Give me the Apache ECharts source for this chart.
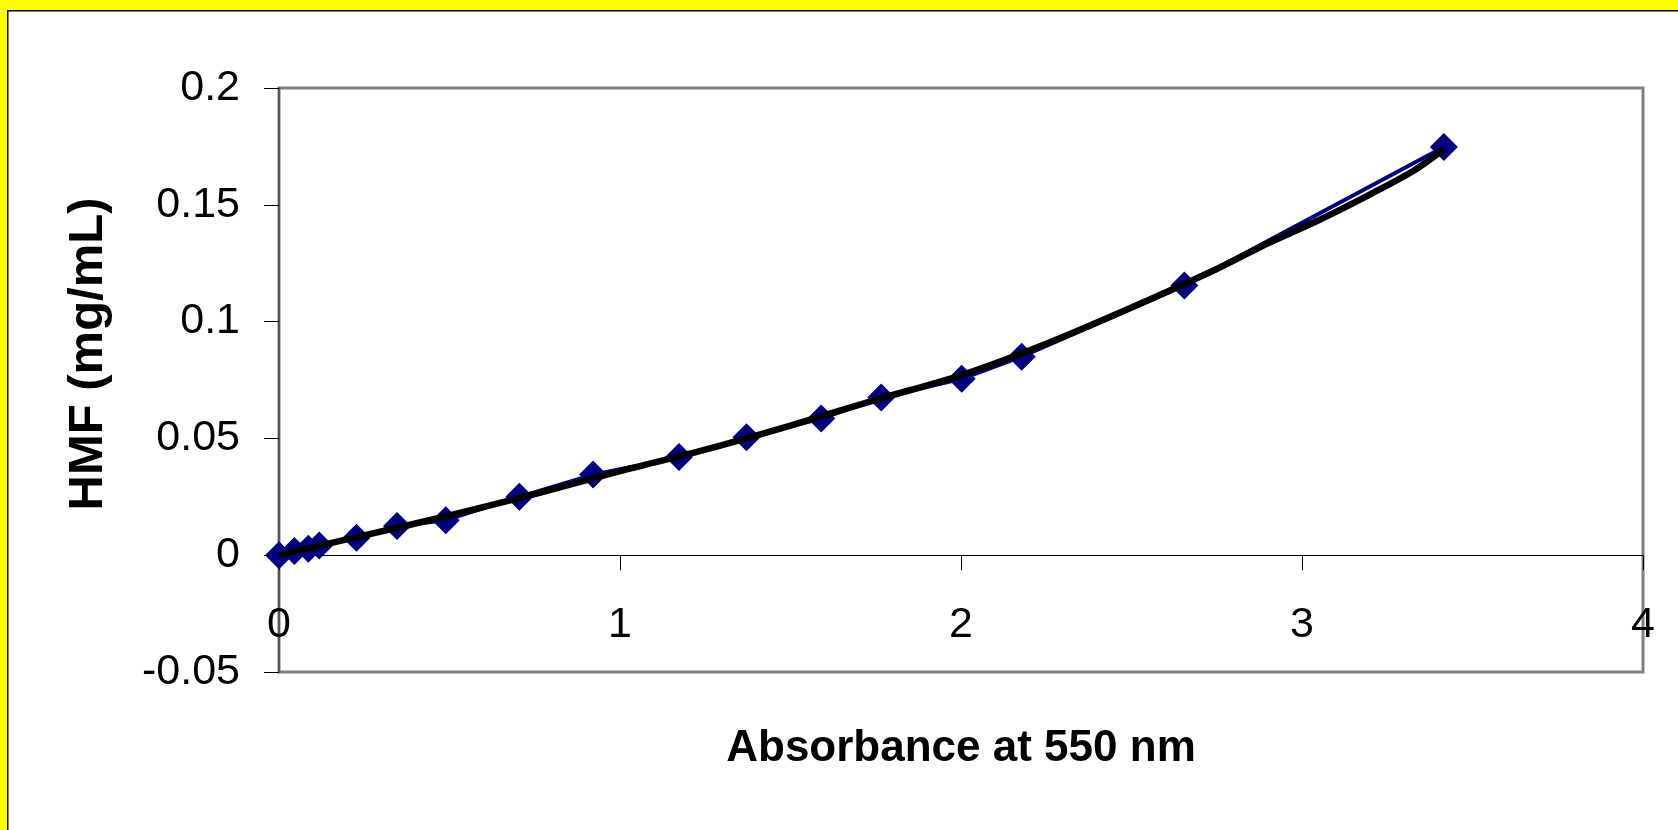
<!DOCTYPE html>
<html>
<head>
<meta charset="utf-8">
<script src="https://cdn.jsdelivr.net/npm/echarts@6/dist/echarts.min.js"></script>
<style>
html,body{margin:0;padding:0;background:#fff;}
#chart{width:1678px;height:830px;}
</style>
</head>
<body>
<div id="chart"></div>
<script>
// Data
const absorbance = [0, 0.045, 0.086, 0.118, 0.227, 0.346, 0.489, 0.705, 0.921, 1.173, 1.371, 1.59, 1.766, 2.002, 2.178, 2.655, 3.416];
const hmf = [0, 0.0018, 0.0028, 0.0041, 0.0075, 0.0125, 0.015, 0.025, 0.0345, 0.042, 0.0505, 0.0585, 0.0675, 0.0755, 0.085, 0.1155, 0.1747];
// Trendline as seen in the picture
const trendX = [0, 0.25, 0.5, 0.75, 1.0, 1.25, 1.5, 1.75, 2.0, 2.25, 2.5, 2.75, 2.9, 3.05, 3.2, 3.33, 3.416];
const trendY = [0, 0.0085, 0.017, 0.0262, 0.036, 0.0452, 0.0555, 0.0665, 0.077, 0.0905, 0.106, 0.1225, 0.1335, 0.1435, 0.1545, 0.1648, 0.1738];
const yTicks = ['-0.05', '0', '0.05', '0.1', '0.15', '0.2'];
const xTitle = 'Absorbance at 550 nm';
const yTitle = 'HMF (mg/mL)';

const chart = echarts.init(document.getElementById('chart'), null, {renderer: 'canvas'});
const font = '"Liberation Sans", Arial, sans-serif';
const gridTop = 88, gridH = 584;
const option = {
  backgroundColor: '#ffffff',
  animation: false,
  grid: {left: 279, top: gridTop, width: 1364, height: gridH, show: true, borderColor: '#808080', borderWidth: 3, backgroundColor: 'transparent'},
  xAxis: {
    type: 'value', min: 0, max: 4, interval: 1,
    position: 'bottom',
    offset: -gridH * 0.05 / 0.25,
    axisLine: {show: true, onZero: false, lineStyle: {color: '#000', width: 1}},
    axisTick: {show: true, inside: false, length: 15, lineStyle: {color: '#000', width: 1}},
    axisLabel: {show: true, margin: 48, color: '#000', fontSize: 43, fontFamily: font, formatter: v => String(v)},
    splitLine: {show: false}
  },
  yAxis: {
    type: 'value', min: -0.05, max: 0.2, interval: 0.05,
    axisLine: {show: true, onZero: false, lineStyle: {color: '#555', width: 2}},
    axisTick: {show: true, inside: false, length: 15, lineStyle: {color: '#000', width: 1}},
    axisLabel: {show: true, margin: 39, color: '#000', fontSize: 43, fontFamily: font,
      formatter: (v) => { const i = Math.round((v + 0.05) / 0.05); return yTicks[i] !== undefined ? yTicks[i] : ''; }},
    splitLine: {show: false}
  },
  graphic: [
    {type: 'rect', shape: {x: 0, y: 0, width: 1678, height: 10}, style: {fill: '#ffff00'}, z: 100},
    {type: 'rect', shape: {x: 0, y: 0, width: 7, height: 830}, style: {fill: '#ffff00'}, z: 100},
    {type: 'rect', shape: {x: 7, y: 10, width: 1671, height: 1.5}, style: {fill: '#000'}, z: 100},
    {type: 'rect', shape: {x: 7, y: 10, width: 1.5, height: 820}, style: {fill: '#000'}, z: 100},
    {type: 'text', x: 961, y: 749, style: {text: xTitle, align: 'center', verticalAlign: 'middle', font: 'bold 44px ' + font, fill: '#000'}, z: 50},
    {type: 'text', rotation: Math.PI / 2, x: 88, y: 354, style: {text: yTitle, align: 'center', verticalAlign: 'middle', font: 'bold 49px ' + font, fill: '#000'}, z: 50}
  ],
  series: [
    {
      type: 'line', name: 'data',
      data: absorbance.map((x, i) => [x, hmf[i]]),
      symbol: 'diamond', symbolSize: 28,
      itemStyle: {color: '#000080'},
      lineStyle: {color: '#000080', width: 4},
      z: 2
    },
    {
      type: 'line', name: 'trend',
      data: trendX.map((x, i) => [x, trendY[i]]),
      symbol: 'none', smooth: 0.3,
      lineStyle: {color: '#000', width: 6.5},
      z: 3
    }
  ]
};
chart.setOption(option);
</script>
</body>
</html>
